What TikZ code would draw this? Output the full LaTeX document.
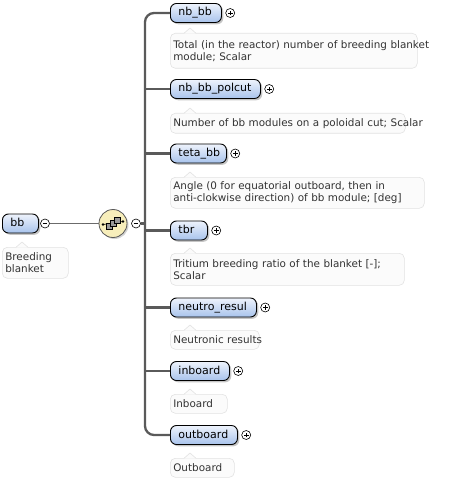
\documentclass[tikz,border=0pt]{standalone}
\usepackage{fontspec}
\newfontfamily\elfont{DejaVu Sans}
\newfontfamily\dsfont{DejaVu Sans}
\usetikzlibrary{shadows,positioning,calc}
\definecolor{eltop}{HTML}{EEF3FC}
\definecolor{elbot}{HTML}{A8C3EC}
\definecolor{trunkc}{HTML}{5A5A5A}
\definecolor{descfill}{HTML}{FBFBFB}
\definecolor{descdraw}{HTML}{E2E2E2}
\definecolor{seqfill}{HTML}{F7EEBB}
\newcommand\descptr[1]{%
  \fill[descfill] ($(#1.north west)+(14,0.7)$) -- ($(#1.north west)+(20,-5)$) -- ($(#1.north west)+(26,0.7)$) -- cycle;
  \draw[descdraw,line width=0.6pt] ($(#1.north west)+(14,0.3)$) -- ($(#1.north west)+(20,-5)$) -- ($(#1.north west)+(26,0.3)$);}
\begin{document}
\begin{tikzpicture}[x=1pt,y=-1pt,
  elem/.style={draw=black, line width=0.9pt, rounded corners=6pt, top color=eltop, bottom color=elbot,
    minimum height=19pt, inner xsep=8pt, inner ysep=0pt, anchor=west, align=left,
    text height=8.5pt, text depth=2.5pt,
    font=\elfont\fontsize{11}{13}\selectfont,
    drop shadow={shadow xshift=1.8pt, shadow yshift=-1.8pt, fill=black!45}},
  desc/.style={draw=descdraw, line width=0.6pt, fill=descfill, rounded corners=5pt, anchor=north west,
    align=left, inner xsep=3pt, inner ysep=2pt, text=black!80,
    font=\dsfont\fontsize{10.4}{12}\selectfont},
  mcirc/.style={circle, draw=black, fill=white, line width=0.6pt, minimum size=9pt, inner sep=0pt,
    path picture={\draw[line width=0.7pt] ([xshift=-2.4pt]path picture bounding box.center) -- ([xshift=2.4pt]path picture bounding box.center);}},
  pcirc/.style={mcirc,
    path picture={\draw[line width=0.7pt] ([xshift=-2.4pt]path picture bounding box.center) -- ([xshift=2.4pt]path picture bounding box.center)
      ([yshift=-2.4pt]path picture bounding box.center) -- ([yshift=2.4pt]path picture bounding box.center);}},
  trunk/.style={draw=trunkc, line width=2.3pt},
  conn/.style={draw=trunkc!90, line width=1.8pt},
  seqc/.style={circle, draw=black!65, line width=0.8pt, fill=seqfill, minimum size=28pt, inner sep=0pt,
    drop shadow={shadow xshift=1.5pt, shadow yshift=-1.5pt, fill=black!35}},
  sq/.style={draw=black, line width=0.5pt, fill=black!40, minimum size=6pt, inner sep=0pt}
]
\useasboundingbox (0,0) rectangle (448,481);

% root
\node[elem, text width=20pt] (bb) at (2,223.5) {bb};
\node[mcirc] (bbm) at (45,223.5) {};
\node[desc, text width=60pt, minimum height=31pt] (bbd) at (2,247) {\mbox{Breeding}\\\mbox{blanket}};
\descptr{bbd}

% sequence compositor
\node[seqc] (seq) at (113,223.5) {};
\node[mcirc] (seqm) at (136,223.5) {};
\draw[conn] (bbm.east) -- (seq.west);
\draw[line width=0.6pt] ($(seq.center)+(-10,1)$) -- ($(seq.center)+(10,-2)$);
\fill ($(seq.center)+(-10,1)$) circle (1.3pt) ($(seq.center)+(10,-2)$) circle (1.3pt);
\node[sq] at ($(seq.center)+(-4,3)$) {};
\node[sq] at ($(seq.center)+(0,0)$) {};
\node[sq] at ($(seq.center)+(4,-3)$) {};
\coordinate (T) at (145,223.5);
\draw[trunk] (seqm.east) -- (T);

% children
\node[elem, text width=35pt] (c1) at (170,13) {nb\_bb};
\node[pcirc, right=3.5pt of c1] (c1p) {};
\node[desc, text width=241pt, minimum height=35pt] (d1) at (170,33) {\mbox{Total (in the reactor) number of breeding blanket}\\\mbox{module; Scalar}};
\descptr{d1}

\node[elem, text width=74pt] (c2) at (170,89) {nb\_bb\_polcut};
\node[pcirc, right=3.5pt of c2] (c2p) {};
\node[desc, text width=229pt, minimum height=20pt] (d2) at (170,113) {\mbox{Number of bb modules on a poloidal cut; Scalar}};
\descptr{d2}

\node[elem, text width=40pt] (c3) at (170,153.5) {teta\_bb};
\node[pcirc, right=3.5pt of c3] (c3p) {};
\node[desc, text width=248pt, minimum height=31pt] (d3) at (170,177) {\mbox{Angle (0 for equatorial outboard, then in}\\\mbox{anti-clokwise direction) of bb module; [deg]}};
\descptr{d3}

\node[elem, text width=21pt] (c4) at (170,230.5) {tbr};
\node[pcirc, right=3.5pt of c4] (c4p) {};
\node[desc, text width=228pt, minimum height=32pt] (d4) at (170,253) {\mbox{Tritium breeding ratio of the blanket [-];}\\\mbox{Scalar}};
\descptr{d4}

\node[elem, text width=70pt] (c5) at (170,307.5) {neutro\_resul};
\node[pcirc, right=3.5pt of c5] (c5p) {};
\node[desc, text width=83pt, minimum height=19pt] (d5) at (170,330) {\mbox{Neutronic results}};
\descptr{d5}

\node[elem, text width=43pt] (c6) at (170,371) {inboard};
\node[pcirc, right=3.5pt of c6] (c6p) {};
\node[desc, text width=51pt, minimum height=19pt] (d6) at (170,394) {\mbox{Inboard}};
\descptr{d6}

\node[elem, text width=51pt] (c7) at (170,435) {outboard};
\node[pcirc, right=3.5pt of c7] (c7p) {};
\node[desc, text width=58pt, minimum height=19pt] (d7) at (170,458) {\mbox{Outboard}};
\descptr{d7}

% trunk
\draw[trunk, rounded corners=9pt] (c1.west) -| (T) |- (c7.west);
\foreach \c in {c2,c3,c4,c5,c6} { \draw[trunk] (\c.west -| T) -- (\c.west); }
\end{tikzpicture}
\end{document}
